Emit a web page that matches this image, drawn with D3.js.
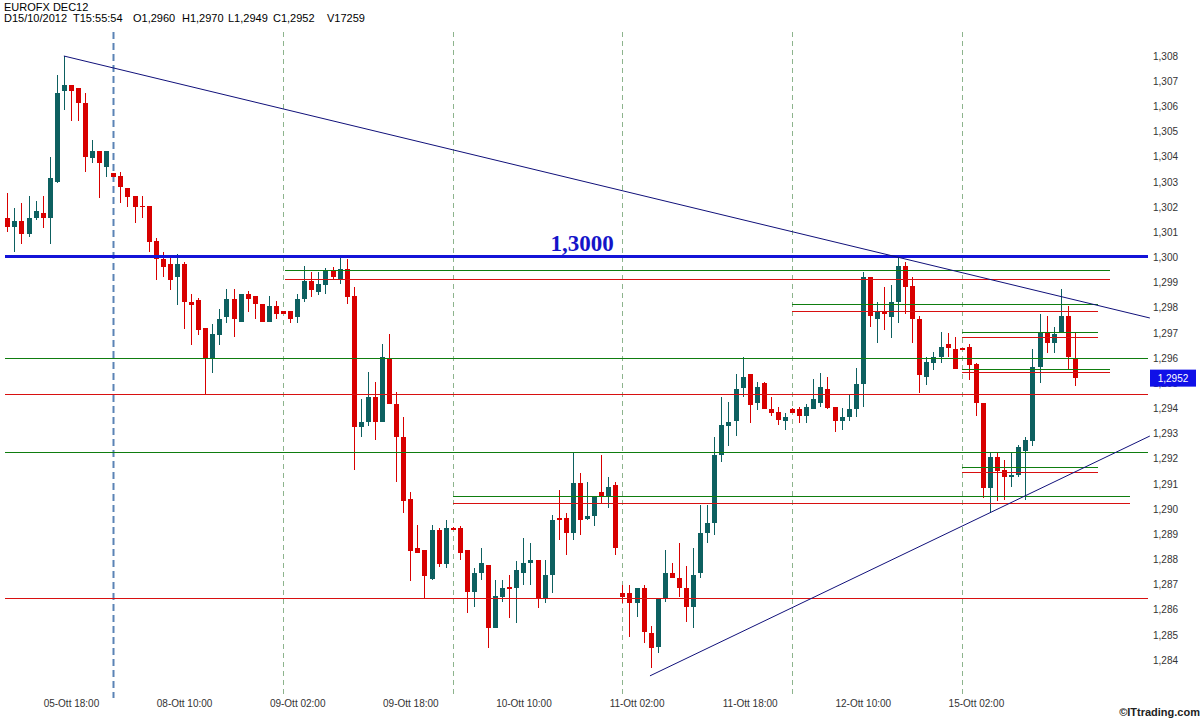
<!DOCTYPE html>
<html><head><meta charset="utf-8">
<script src="https://cdn.jsdelivr.net/npm/d3@7"></script>
<style>
body{margin:0;background:#fff}
svg{display:block}
text{font-family:"Liberation Sans",Arial,sans-serif}
</style>
</head><body>
<svg id="c" width="1204" height="720"></svg>
<script>
// ---------- data ----------
const title = "EUROFX DEC12";
const headerParts = ["D15/10/2012","T15:55:54","O1,2960","H1,2970","L1,2949","C1,2952","V17259"];

const open = [1.30155,1.30122,1.30144,1.30092,1.30155,1.30175,1.30155,1.30301,1.30662,1.30685,
1.30672,1.30612,1.30394,1.30423,1.30360,1.30334,1.30323,1.30274,1.30244,1.30204,
1.30204,1.30065,1.29992,1.29972,1.29923,1.29972,1.29824,1.29831,1.29718,1.29595,
1.29692,1.29762,1.29833,1.29742,1.29853,1.29846,1.29814,1.29742,1.29807,1.29787,
1.29787,1.29764,1.29833,1.29906,1.29864,1.29890,1.29946,1.29913,1.29953,1.29846,
1.29325,1.29345,1.29444,1.29345,1.29596,1.29416,1.29285,1.29040,1.28844,1.28837,
1.28722,1.28917,1.28780,1.28924,1.28924,1.28837,1.28672,1.28745,1.28778,1.28526,
1.28652,1.28690,1.28685,1.28745,1.28784,1.28798,1.28645,1.28738,1.28963,1.28963,
1.28904,1.29105,1.28960,1.28974,1.29067,1.29053,1.29096,1.28665,1.28665,1.28626,
1.28685,1.28506,1.28453,1.28645,1.28745,1.28725,1.28685,1.28612,1.28745,1.28904,
1.28943,1.29215,1.29330,1.29351,1.29480,1.29537,1.29423,1.29500,1.29396,1.29387,
1.29351,1.29396,1.29396,1.29371,1.29396,1.29423,1.29476,1.29404,1.29351,1.29364,
1.29396,1.29497,1.29923,1.29754,1.29784,1.29764,1.29824,1.29966,1.29886,1.29754,
1.29523,1.29582,1.29603,1.29655,1.29635,1.29639,1.29643,1.29576,1.29423,1.29082,
1.29206,1.29155,1.29126,1.29135,1.29232,1.29270,1.29563,1.29701,1.29661,1.29701,
1.29767,1.29600];
const high = [1.30255,1.30195,1.30215,1.30244,1.30224,1.30244,1.30400,1.30725,1.30800,1.30685,
1.30672,1.30652,1.30466,1.30423,1.30423,1.30337,1.30340,1.30274,1.30244,1.30244,
1.30204,1.30076,1.30023,1.30003,1.30013,1.29983,1.29853,1.29838,1.29718,1.29735,
1.29794,1.29873,1.29873,1.29853,1.29866,1.29846,1.29814,1.29846,1.29827,1.29787,
1.29787,1.29853,1.29966,1.29943,1.29943,1.29957,1.29963,1.30000,1.29992,1.29883,
1.29437,1.29543,1.29504,1.29656,1.29696,1.29464,1.29365,1.29067,1.28937,1.28837,
1.28937,1.28924,1.28957,1.28927,1.28933,1.28837,1.28765,1.28844,1.28778,1.28718,
1.28718,1.28738,1.28795,1.28884,1.28864,1.28798,1.28798,1.28976,1.29076,1.28983,
1.29224,1.29144,1.29109,1.29052,1.29215,1.29126,1.29109,1.28698,1.28698,1.28685,
1.28698,1.28535,1.28645,1.28837,1.28784,1.28864,1.28774,1.28844,1.29016,1.29016,
1.29285,1.29446,1.29427,1.29537,1.29603,1.29537,1.29506,1.29506,1.29444,1.29407,
1.29380,1.29403,1.29407,1.29417,1.29516,1.29542,1.29526,1.29407,1.29400,1.29453,
1.29559,1.29943,1.29923,1.29824,1.29883,1.29890,1.30000,1.29983,1.29921,1.29767,
1.29603,1.29625,1.29705,1.29701,1.29683,1.29639,1.29656,1.29581,1.29423,1.29224,
1.29224,1.29195,1.29224,1.29255,1.29287,1.29636,1.29775,1.29767,1.29722,1.29873,
1.29807,1.29700];
const low = [1.30102,1.30023,1.30052,1.30082,1.30150,1.30115,1.30052,1.30294,1.30585,1.30543,
1.30543,1.30340,1.30374,1.30235,1.30320,1.30318,1.30215,1.30201,1.30135,1.30155,
1.30023,1.29910,1.29923,1.29870,1.29811,1.29714,1.29652,1.29692,1.29457,1.29542,
1.29652,1.29740,1.29682,1.29742,1.29784,1.29754,1.29742,1.29742,1.29754,1.29774,
1.29740,1.29740,1.29824,1.29844,1.29850,1.29853,1.29913,1.29893,1.29815,1.29155,
1.29285,1.29330,1.29274,1.29345,1.29416,1.29106,1.28983,1.28715,1.28824,1.28645,
1.28718,1.28771,1.28765,1.28917,1.28798,1.28586,1.28612,1.28718,1.28447,1.28526,
1.28632,1.28566,1.28546,1.28698,1.28698,1.28606,1.28626,1.28665,1.28877,1.28817,
1.28877,1.28897,1.28957,1.28934,1.29025,1.29003,1.28817,1.28626,1.28493,1.28572,
1.28467,1.28367,1.28427,1.28632,1.28725,1.28652,1.28552,1.28526,1.28725,1.28864,
1.28897,1.29188,1.29250,1.29290,1.29444,1.29343,1.29394,1.29396,1.29370,1.29334,
1.29314,1.29383,1.29343,1.29343,1.29396,1.29407,1.29396,1.29307,1.29314,1.29351,
1.29364,1.29407,1.29722,1.29661,1.29711,1.29681,1.29740,1.29775,1.29661,1.29462,
1.29493,1.29552,1.29582,1.29603,1.29555,1.29635,1.29513,1.29370,1.29043,1.28986,
1.29030,1.29036,1.29089,1.29126,1.29036,1.29250,1.29502,1.29621,1.29621,1.29701,
1.29555,1.29490];
const close = [1.30122,1.30144,1.30092,1.30155,1.30184,1.30155,1.30314,1.30652,1.30685,1.30662,
1.30612,1.30400,1.30423,1.30374,1.30423,1.30320,1.30281,1.30241,1.30201,1.30201,
1.30062,1.29992,1.29963,1.29910,1.29972,1.29824,1.29811,1.29711,1.29595,1.29696,
1.29754,1.29833,1.29754,1.29853,1.29833,1.29814,1.29742,1.29807,1.29774,1.29774,
1.29754,1.29833,1.29906,1.29870,1.29894,1.29946,1.29923,1.29953,1.29844,1.29325,
1.29347,1.29444,1.29345,1.29603,1.29416,1.29285,1.29033,1.28835,1.28824,1.28734,
1.28917,1.28780,1.28924,1.28920,1.28824,1.28672,1.28745,1.28784,1.28526,1.28655,
1.28685,1.28687,1.28758,1.28784,1.28798,1.28645,1.28738,1.28957,1.28955,1.28904,
1.29105,1.28957,1.28974,1.29052,1.29053,1.29086,1.28844,1.28652,1.28626,1.28685,
1.28513,1.28447,1.28645,1.28745,1.28725,1.28685,1.28612,1.28738,1.28906,1.28943,
1.29215,1.29334,1.29347,1.29476,1.29523,1.29413,1.29486,1.29396,1.29383,1.29354,
1.29364,1.29383,1.29370,1.29407,1.29437,1.29486,1.29403,1.29351,1.29367,1.29396,
1.29497,1.29923,1.29767,1.29784,1.29774,1.29824,1.29966,1.29883,1.29754,1.29533,
1.29585,1.29603,1.29643,1.29641,1.29555,1.29635,1.29572,1.29423,1.29082,1.29206,
1.29152,1.29126,1.29135,1.29245,1.29274,1.29566,1.29701,1.29661,1.29696,1.29767,
1.29603,1.29520];

const yTicks = [1.284,1.285,1.286,1.287,1.288,1.289,1.290,1.291,1.292,1.293,1.294,1.295,1.296,
1.297,1.298,1.299,1.300,1.301,1.302,1.303,1.304,1.305,1.306,1.307,1.308];
const xLabelIdx = [9,25,41,57,73,89,105,121,137];
const xLabels = ["05-Ott 18:00","08-Ott 10:00","09-Ott 02:00","09-Ott 18:00","10-Ott 10:00",
"11-Ott 02:00","11-Ott 18:00","12-Ott 10:00","15-Ott 02:00"];
const dayBreaks = [15,39,63,87,111,135];
const weekBreak = 15;

// horizontal levels: price, from bar index, to bar index, kind
const levelPrice = [1.3000,1.2960,1.29457,1.29225,1.28645,1.2995,1.29914,1.29815,1.29787,1.29702,1.29682,1.29555,1.29543,1.29166,1.29146,1.29053,1.29023];
const levelFrom  = [-0.3,-0.3,-0.3,-0.3,-0.3,39.3,39.3,111,111,135,135,135,135,135,135,63,63];
const levelTo    = [161.3,161.3,161.3,161.3,161.3,156,156,154.2,154.2,154.2,154.2,156,156,154.2,154.2,158.8,158.8];
const levelKind  = ["key","sup","res","sup","res","sup","res","sup","res","sup","res","sup","res","sup","res","sup","res"];
const keyLevelLabel = "1,3000";

// trend lines: [index, price] endpoints
const trendUpper = [[8,1.3080],[161.6,1.29759]];
const trendLower = [[90.9,1.28337],[161.6,1.2929]];

const lastPrice = 1.2952;

// ---------- chart ----------
const svg = d3.select("#c");
const n = open.length;
const x = d3.scaleLinear().domain([0,151]).range([7.3,1074.9]);
const y = d3.scaleLinear().domain([1.284,1.308]).range([660,56]);
const UP="#0d6060", DN="#d80000";
const fmt = v => d3.format(".3f")(v).replace(".",",");

// vertical day separators
svg.append("g").selectAll("line").data(dayBreaks).join("line")
  .attr("x1",d=>Math.round(x(d))+0.5).attr("x2",d=>Math.round(x(d))+0.5)
  .attr("y1",32).attr("y2",698)
  .attr("stroke",d=>d===weekBreak?"#5b83b5":"#8db48d")
  .attr("stroke-width",d=>d===weekBreak?2:1)
  .attr("stroke-dasharray",d=>d===weekBreak?"7,4":"5,4");

// candles
const bars = d3.range(n).map(i=>({i,o:open[i],h:high[i],l:low[i],c:close[i]}));
const g = svg.append("g").attr("shape-rendering","crispEdges");
g.selectAll("line.w").data(bars).join("line").attr("class","w")
  .attr("x1",d=>Math.round(x(d.i))+0.5).attr("x2",d=>Math.round(x(d.i))+0.5)
  .attr("y1",d=>y(d.h)).attr("y2",d=>y(d.l))
  .attr("stroke",d=>d.c>=d.o?UP:DN);
g.selectAll("rect").data(bars).join("rect")
  .attr("x",d=>Math.round(x(d.i))-2).attr("width",5)
  .attr("y",d=>y(Math.max(d.o,d.c)))
  .attr("height",d=>Math.max(1.5,Math.abs(y(d.o)-y(d.c))))
  .attr("fill",d=>d.c>=d.o?UP:DN);

// levels
const levels = levelPrice.map((p,k)=>({p,a:levelFrom[k],b:levelTo[k],kind:levelKind[k]}));
const col = {key:"#1414d8",sup:"#0f7d0f",res:"#d81010"};
svg.append("g").attr("shape-rendering","crispEdges").selectAll("line").data(levels).join("line")
  .attr("x1",d=>x(d.a)).attr("x2",d=>x(d.b))
  .attr("y1",d=>d.kind==="key"?y(d.p)-1:Math.round(y(d.p))+0.5)
  .attr("y2",d=>d.kind==="key"?y(d.p)-1:Math.round(y(d.p))+0.5)
  .attr("stroke",d=>col[d.kind]).attr("stroke-width",d=>d.kind==="key"?3.5:1);

svg.append("text").attr("x",x(81.3)).attr("y",y(1.3)-6)
  .attr("text-anchor","middle").attr("fill","#1414c8")
  .style("font-family","'Liberation Serif','Times New Roman',serif")
  .style("font-weight","bold").style("font-size","23px").text(keyLevelLabel);

// trend lines
const tl = d3.line().x(d=>x(d[0])).y(d=>y(d[1]));
[trendUpper,trendLower].forEach(t=>{
  svg.append("path").attr("d",tl(t)).attr("fill","none").attr("stroke","#10107a").attr("stroke-width",1);
});

// y axis
const ya = svg.append("g").attr("transform","translate(1150,0)")
  .call(d3.axisRight(y).tickValues(yTicks).tickSize(0).tickPadding(3).tickFormat(fmt));
ya.select(".domain").remove();
ya.selectAll("text").attr("fill","#333").style("font-size","10px")
  .style("font-family","'Liberation Sans',Arial,sans-serif");

// last price box
const lp = svg.append("g");
lp.append("rect").attr("x",1150).attr("y",y(lastPrice)-8.5).attr("width",46).attr("height",17).attr("fill","#1010e8");
lp.append("text").attr("x",1173).attr("y",y(lastPrice)+4).attr("text-anchor","middle")
  .attr("fill","#fff").style("font-size","10px").text(d3.format(".4f")(lastPrice).replace(".",","));

// x axis
const xa = svg.append("g").attr("transform","translate(0,697)")
  .call(d3.axisBottom(x).tickValues(xLabelIdx).tickSize(0).tickPadding(3).tickFormat((d,k)=>xLabels[k]));
xa.select(".domain").remove();
xa.selectAll("text").attr("fill","#333").style("font-size","10px")
  .style("font-family","'Liberation Sans',Arial,sans-serif");

// header
svg.append("text").attr("x",4).attr("y",11).attr("fill","#000").style("font-size","11px").text(title);
const hx = [4,73,133,182,228,273,327];
const ht = svg.append("text").attr("y",22).attr("fill","#000").style("font-size","11px");
headerParts.forEach((s,k)=>ht.append("tspan").attr("x",hx[k]).text(s));

svg.append("text").attr("x",1200).attr("y",716).attr("text-anchor","end")
  .attr("fill","#222").style("font-size","11px").style("font-weight","bold").text("\u00A9ITtrading.com");
</script>
</body></html>
